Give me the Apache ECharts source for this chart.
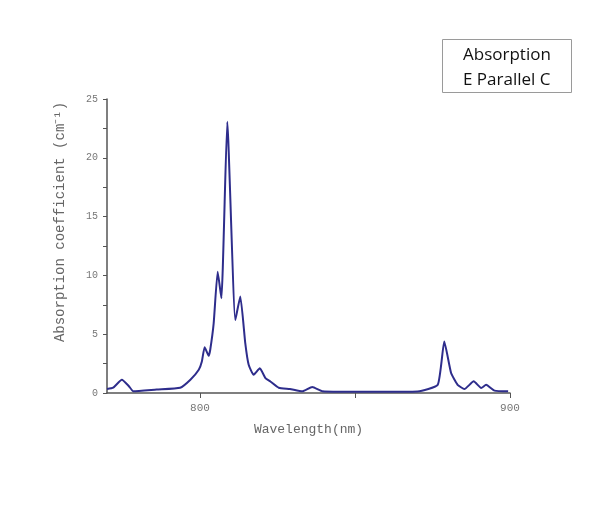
<!DOCTYPE html>
<html><head><meta charset="utf-8">
<script src="https://cdn.jsdelivr.net/npm/echarts@6/dist/echarts.min.js"></script>
<style>html,body{margin:0;padding:0;background:#fff}#c{width:594px;height:527px}</style>
</head><body><div id="c"></div>
<script>
const wavelengths = [770, 772, 774.8, 777, 778.5, 786, 793.6, 796.9, 799.6, 800.6, 801.5, 802.8, 803.3, 804.4, 805.7, 806.9, 808.8, 811.4, 813.0, 814.6, 815.7, 817.3, 819.3, 821.1, 822.7, 825.4, 829, 833, 836.2, 839.5, 845, 855, 865, 870.2, 876.7, 878.8, 881, 883.1, 885.3, 888.3, 890.7, 892.3, 895, 899.4];
const absorption = [0.34, 0.45, 1.13, 0.6, 0.14, 0.3, 0.45, 1.13, 1.98, 2.68, 3.9, 3.17, 3.68, 5.9, 10.3, 8.06, 23.06, 6.2, 8.2, 4.24, 2.4, 1.55, 2.1, 1.27, 0.98, 0.45, 0.34, 0.14, 0.51, 0.14, 0.1, 0.1, 0.1, 0.12, 0.7, 4.38, 1.7, 0.7, 0.34, 0.99, 0.42, 0.7, 0.2, 0.14];
const xTickValues = [800, 850, 900];
const xLabelValues = [800, 900];
const yTickValues = [0, 2.5, 5, 7.5, 10, 12.5, 15, 17.5, 20, 22.5, 25];
const yLabelValues = [0, 5, 10, 15, 20, 25];
const seriesName = 'Absorption\nE Parallel C';

const chart = echarts.init(document.getElementById('c'), null, {renderer: 'canvas'});
const axisFont = 'Liberation Mono';
chart.setOption({
  backgroundColor: '#fff',
  animation: false,
  title: {
    text: seriesName,
    left: 442, top: 39,
    borderColor: '#9a9a9a', borderWidth: 1,
    padding: [4, 21, 0, 21],
    textStyle: {fontFamily: 'Open Sans', fontSize: 17, fontWeight: 'normal', color: '#111', lineHeight: 25, align: 'center'},
    textAlign: 'left'
  },
  grid: {left: 107, right: 84, top: 99, bottom: 134, containLabel: false},
  xAxis: {
    type: 'value', min: 770, max: 900,
    name: 'Wavelength(nm)', nameLocation: 'middle', nameGap: 30,
    nameTextStyle: {fontFamily: axisFont, fontSize: 13, color: '#666'},
    axisLine: {lineStyle: {color: '#555', width: 1.5}},
    axisTick: {show: true, customValues: xTickValues, length: 5, lineStyle: {color: '#555'}},
    axisLabel: {customValues: xLabelValues, fontFamily: axisFont, fontSize: 11, color: '#777', margin: 10},
    splitLine: {show: false}
  },
  yAxis: {
    type: 'value', min: 0, max: 25,
    name: 'Absorption coefficient (cm⁻¹)', nameLocation: 'middle', nameGap: 40,
    nameTextStyle: {fontFamily: axisFont, fontSize: 14, color: '#666', padding: [0, 0, 0, 48]},
    axisLine: {show: true, lineStyle: {color: '#555', width: 1.5}},
    axisTick: {show: true, customValues: yTickValues, length: 4, lineStyle: {color: '#555'}},
    axisLabel: {customValues: yLabelValues, fontFamily: axisFont, fontSize: 10, color: '#777', margin: 9},
    splitLine: {show: false}
  },
  series: [{
    name: seriesName,
    type: 'line',
    data: wavelengths.map((w, i) => [w, absorption[i]]),
    showSymbol: false,
    smooth: 0.15,
    lineStyle: {color: '#2e2d8c', width: 2},
    itemStyle: {color: '#2e2d8c'}
  }]
});
</script></body></html>
